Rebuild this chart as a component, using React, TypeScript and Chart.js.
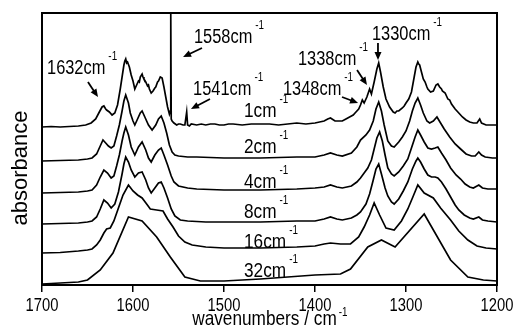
import React, { useEffect, useRef } from "react";
import { Chart, registerables } from "chart.js";
Chart.register(...registerables);

// ---- data (wavenumber cm^-1, relative absorbance) ----
const TICK_VALUES = [1700, 1600, 1500, 1400, 1300, 1200];
const TRACE_LABELS = ["1cm", "2cm", "4cm", "8cm", "16cm", "32cm"];
const OFFSETS = [158, 124, 92, 61, 32, 0];

const trace1cm = [
  [1700, 0], [1690, 0.5], [1680, 0], [1670, 0.5], [1660, 1], [1652, 2], [1646, 4], [1641, 8], [1637, 15], [1634, 20],
  [1632, 21], [1630, 18], [1629, 17], [1626, 15], [1623, 12], [1620, 14], [1617, 22], [1614, 38], [1612, 50], [1610, 62],
  [1609, 66], [1608, 68], [1607, 64], [1606, 65], [1604, 60], [1603, 56], [1602, 52], [1600, 46], [1598, 38], [1597, 40],
  [1596, 42], [1594, 46], [1593, 45], [1592, 50], [1590, 53], [1589, 50], [1588, 48], [1586, 45], [1584, 41], [1583, 42],
  [1582, 38], [1580, 34], [1578, 36], [1576, 39], [1575, 40], [1573, 45], [1572, 46], [1570, 50], [1568, 49], [1566, 40],
  [1564, 30], [1562, 20], [1560, 13], [1559, 16], [1558.5, 114], [1558, 8], [1557, 6], [1555, 4], [1552, 2], [1550, 3], [1548, 3],
  [1545, 2], [1543, 2], [1541, 15], [1540, 2], [1538, 1], [1536, 3], [1530, 2], [1525, 3], [1520, 2], [1515, 3],
  [1510, 3], [1505, 2], [1500, 2], [1495, 3], [1490, 3], [1480, 2], [1470, 3], [1460, 3], [1450, 3], [1440, 2],
  [1430, 3], [1420, 4], [1410, 3], [1400, 4], [1390, 6], [1386, 8], [1383, 9], [1378, 6], [1370, 6], [1366, 8],
  [1362, 10], [1358, 12], [1356, 14], [1352, 18], [1350, 22], [1348, 27], [1346, 24], [1343, 30], [1340, 38], [1338, 33],
  [1335, 45], [1332, 58], [1330, 64], [1328, 55], [1325, 40], [1322, 28], [1318, 20], [1314, 15], [1312, 14], [1310, 16],
  [1308, 16], [1304, 19], [1302, 21], [1300, 24], [1297, 28], [1294, 35], [1291, 50], [1289, 60], [1287, 65], [1286, 63],
  [1285, 62], [1283, 55], [1281, 48], [1279, 45], [1277, 40], [1276, 38], [1273, 35], [1270, 36], [1267, 42], [1265, 43],
  [1263, 40], [1261, 38], [1260, 36], [1257, 34], [1254, 28], [1252, 27], [1250, 23], [1246, 18], [1242, 14], [1238, 10],
  [1234, 7], [1230, 5], [1226, 4], [1222, 4], [1219, 8], [1217, 4], [1212, 2], [1206, 2], [1200, 2],
];

const trace2cm = [
  [1700, 0], [1680, 0.5], [1660, 1], [1650, 2], [1645, 3], [1640, 7], [1636, 15], [1633, 21], [1630, 18], [1627, 15],
  [1624, 13], [1621, 15], [1618, 25], [1615, 36], [1612, 50], [1610, 60], [1608, 66], [1605, 58], [1603, 48], [1600, 40],
  [1598, 36], [1595, 42], [1592, 48], [1590, 50], [1587, 44], [1583, 36], [1579, 31], [1575, 36], [1572, 42], [1569, 45],
  [1566, 38], [1563, 28], [1560, 16], [1557, 9], [1554, 6], [1550, 5], [1540, 4], [1530, 4], [1500, 3], [1460, 3],
  [1420, 4], [1400, 4], [1390, 6], [1383, 8], [1376, 6], [1370, 5], [1360, 8], [1354, 14], [1350, 21], [1344, 26],
  [1340, 31], [1336, 40], [1333, 52], [1330, 59], [1327, 50], [1324, 36], [1320, 20], [1316, 15], [1313, 14], [1308, 19],
  [1304, 24], [1300, 30], [1296, 40], [1293, 50], [1290, 58], [1287, 63], [1284, 56], [1281, 48], [1277, 40], [1274, 38],
  [1270, 40], [1266, 44], [1262, 38], [1258, 32], [1252, 24], [1246, 17], [1240, 12], [1234, 7], [1228, 5], [1224, 5],
  [1220, 9], [1217, 6], [1213, 4], [1205, 3], [1200, 3],
];

const trace4cm = [
  [1700, 0], [1680, 0.5], [1660, 1], [1650, 2], [1645, 3], [1640, 8], [1636, 16], [1632, 23], [1628, 20], [1624, 15],
  [1621, 17], [1618, 27], [1615, 38], [1612, 52], [1610, 60], [1608, 66], [1605, 58], [1602, 46], [1598, 38], [1594, 46],
  [1590, 51], [1586, 43], [1583, 35], [1580, 31], [1576, 38], [1572, 43], [1569, 45], [1566, 38], [1562, 28], [1558, 17],
  [1555, 11], [1550, 7], [1540, 5], [1530, 4], [1500, 3], [1460, 3], [1420, 4], [1400, 5], [1390, 6], [1383, 8],
  [1376, 6], [1370, 5], [1360, 7], [1354, 11], [1350, 15], [1346, 20], [1342, 25], [1338, 33], [1335, 44], [1332, 55],
  [1329, 61], [1326, 52], [1323, 38], [1320, 25], [1316, 19], [1313, 17], [1308, 21], [1303, 27], [1298, 34], [1294, 45],
  [1290, 56], [1287, 63], [1284, 58], [1280, 51], [1276, 45], [1272, 44], [1268, 45], [1265, 46], [1261, 40], [1256, 33],
  [1251, 25], [1245, 18], [1240, 14], [1235, 9], [1230, 6], [1226, 5], [1220, 8], [1216, 5], [1210, 4], [1200, 4],
];

const trace8cm = [
  [1700, 0], [1680, 0.5], [1660, 1], [1650, 2], [1645, 3], [1640, 7], [1636, 15], [1632, 24], [1628, 21], [1624, 16],
  [1620, 20], [1616, 32], [1612, 50], [1610, 60], [1608, 67], [1605, 62], [1602, 54], [1598, 47], [1594, 51], [1590, 52],
  [1586, 44], [1583, 36], [1580, 31], [1576, 36], [1572, 41], [1569, 42], [1566, 36], [1562, 26], [1558, 15], [1554, 8],
  [1548, 4], [1540, 3], [1520, 2], [1500, 2], [1460, 2], [1420, 3], [1400, 3], [1390, 5], [1383, 7], [1376, 5],
  [1370, 4], [1360, 6], [1354, 9], [1350, 12], [1344, 20], [1340, 30], [1336, 44], [1333, 55], [1330, 60], [1327, 50],
  [1323, 36], [1320, 28], [1316, 22], [1313, 20], [1308, 25], [1303, 33], [1298, 42], [1293, 55], [1289, 63], [1287, 66],
  [1284, 62], [1280, 55], [1276, 49], [1272, 47], [1268, 47], [1265, 46], [1261, 42], [1256, 35], [1251, 27], [1246, 19],
  [1242, 14], [1236, 9], [1230, 6], [1226, 5], [1220, 7], [1216, 4], [1210, 3], [1200, 2],
];

const trace16cm = [
  [1700, 0], [1680, 0.5], [1660, 2], [1650, 3], [1645, 4], [1640, 8], [1636, 13], [1632, 20], [1629, 24], [1625, 25],
  [1621, 32], [1616, 45], [1611, 58], [1605, 68], [1600, 62], [1595, 58], [1590, 55], [1585, 49], [1581, 44], [1574, 43],
  [1567, 42], [1562, 34], [1556, 26], [1550, 17], [1543, 11], [1535, 8], [1520, 6], [1500, 5], [1460, 5], [1420, 6],
  [1400, 7], [1390, 9], [1383, 10], [1372, 9], [1361, 9], [1352, 16], [1346, 26], [1340, 38], [1335, 50], [1329, 38],
  [1322, 25], [1313, 23], [1305, 32], [1298, 44], [1292, 57], [1287, 68], [1280, 60], [1270, 55], [1262, 45], [1251, 33],
  [1242, 22], [1232, 13], [1222, 7], [1212, 5], [1200, 4],
];

const trace32cm = [
  [1700, 1], [1680, 2], [1660, 3], [1650, 5], [1636, 15], [1622, 32], [1605, 68], [1590, 64], [1574, 48], [1559, 28],
  [1543, 8], [1526, 4], [1500, 4], [1460, 6], [1430, 8], [1400, 10], [1372, 11], [1361, 16], [1342, 38], [1327, 45],
  [1312, 38], [1280, 71], [1251, 25], [1232, 8], [1215, 5], [1200, 4],
];

const TRACES = [trace1cm, trace2cm, trace4cm, trace8cm, trace16cm, trace32cm];

// annotations (anchor in wavenumber / absorbance units)
const ANNOT_TEXT = ["1632cm", "1558cm", "1541cm", "1338cm", "1330cm", "1348cm"];
const ANNOT_POS = [[1694.5, 211], [1533, 242], [1534, 190], [1418.7, 220], [1337.4, 245], [1435.2, 190]];
const ARROWS = [
  [1649.5, 203, 1638.5, 188],
  [1524.2, 237, 1545, 228],
  [1515.4, 186, 1536.3, 176],
  [1353.8, 215, 1342.9, 200],
  [1330.8, 242, 1330.8, 225],
  [1370.3, 188, 1352.7, 182],
];
const LABEL_WN = 1478;
const LABEL_Y = [168, 132, 97, 67, 37, 8];

const SQ = 0.82;
const FONT = '"Liberation Sans", Arial, sans-serif';

function txt(ctx: CanvasRenderingContext2D, s: string, x: number, y: number, size: number, align: CanvasTextAlign = "left") {
  ctx.save();
  ctx.font = `${size}px ${FONT}`;
  ctx.translate(x, y);
  ctx.scale(SQ, 1);
  ctx.textAlign = align;
  ctx.textBaseline = "alphabetic";
  ctx.fillStyle = "#000";
  ctx.fillText(s, 0, 0);
  const w = ctx.measureText(s).width * SQ;
  ctx.restore();
  return w;
}

function supTxt(ctx: CanvasRenderingContext2D, main: string, x: number, y: number, size: number, supSize: number, rise: number, gap: number) {
  const w = txt(ctx, main, x, y, size);
  txt(ctx, "-1", x + w + gap, y - rise, supSize);
}

function arrow(ctx: CanvasRenderingContext2D, x1: number, y1: number, x2: number, y2: number) {
  const a = Math.atan2(y2 - y1, x2 - x1);
  const hl = 8, hw = 3.5;
  const c = Math.cos(a), s = Math.sin(a);
  ctx.save();
  ctx.strokeStyle = "#000";
  ctx.fillStyle = "#000";
  ctx.lineWidth = 1.8;
  ctx.beginPath();
  ctx.moveTo(x1, y1);
  ctx.lineTo(x2 - hl * 0.8 * c, y2 - hl * 0.8 * s);
  ctx.stroke();
  ctx.beginPath();
  ctx.moveTo(x2, y2);
  ctx.lineTo(x2 - hl * c + hw * s, y2 - hl * s - hw * c);
  ctx.lineTo(x2 - hl * c - hw * s, y2 - hl * s + hw * c);
  ctx.closePath();
  ctx.fill();
  ctx.restore();
}

const decor = {
  id: "decor",
  afterDraw(chart: any) {
    const { ctx, chartArea } = chart;
    const { left, right, top, bottom } = chartArea;
    const xs = chart.scales.x;
    const ys = chart.scales.y;
    ctx.save();
    ctx.strokeStyle = "#000";
    ctx.lineWidth = 2;
    ctx.strokeRect(left, top, right - left, bottom - top);
    ctx.restore();

    ANNOT_TEXT.forEach((t, i) => {
      const [w, v] = ANNOT_POS[i];
      supTxt(ctx, t, xs.getPixelForValue(w), ys.getPixelForValue(v), 20, 12, 14, 3);
    });
    ARROWS.forEach(([w1, v1, w2, v2]) => {
      arrow(ctx, xs.getPixelForValue(w1), ys.getPixelForValue(v1), xs.getPixelForValue(w2), ys.getPixelForValue(v2));
    });
    TRACE_LABELS.forEach((t, i) => {
      supTxt(ctx, t, xs.getPixelForValue(LABEL_WN), ys.getPixelForValue(LABEL_Y[i]), 21, 12, 14, 3);
    });
    // x tick labels
    TICK_VALUES.forEach((v) => {
      txt(ctx, String(v), xs.getPixelForValue(v), 311, 18, "center");
    });
    // x title
    const cx = (left + right) / 2;
    const title = "wavenumbers / cm";
    ctx.save();
    ctx.font = `21px ${FONT}`;
    const tw = ctx.measureText(title).width * SQ;
    ctx.restore();
    const tx = cx - tw / 2 - 5;
    supTxt(ctx, title, tx, 325, 21, 12, 9, 2);
    // y title
    ctx.save();
    ctx.translate(27, (top + bottom) / 2 + 19);
    ctx.rotate(-Math.PI / 2);
    ctx.font = `22px ${FONT}`;
    ctx.textAlign = "center";
    ctx.textBaseline = "alphabetic";
    ctx.fillStyle = "#000";
    ctx.fillText("absorbance", 0, 0);
    ctx.restore();
  },
};

export default function App() {
  const ref = useRef<HTMLCanvasElement>(null);
  useEffect(() => {
    document.body.style.margin = "0";
    const chart = new Chart(ref.current!, {
      type: "line",
      data: {
        datasets: TRACES.map((t, i) => ({
          label: TRACE_LABELS[i],
          data: t.map(([w, a]) => ({ x: w, y: a + OFFSETS[i] })),
          borderColor: "#000",
          borderWidth: 1.7,
          pointRadius: 0,
          tension: 0,
          fill: false,
        })),
      },
      options: {
        animation: false,
        responsive: false,
        devicePixelRatio: 1,
        layout: { padding: { left: 42, right: 19, top: 13, bottom: 0 } },
        plugins: { legend: { display: false }, tooltip: { enabled: false } },
        scales: {
          x: {
            type: "linear",
            min: 1200,
            max: 1700,
            reverse: true,
            afterBuildTicks: (s: any) => {
              s.ticks = TICK_VALUES.map((v) => ({ value: v }));
            },
            afterFit: (s: any) => {
              s.height = 49;
            },
            ticks: { display: false },
            grid: { drawOnChartArea: false, drawTicks: true, tickLength: 7, color: "#000", lineWidth: 1.5 },
            border: { display: true, color: "#000", width: 2 },
          },
          y: { display: false, min: 0, max: 272 },
        },
      },
      plugins: [decor],
    });
    return () => chart.destroy();
  }, []);
  return (
    <div style={{ width: 516, height: 334 }}>
      <canvas ref={ref} width={516} height={334} style={{ display: "block" }} />
    </div>
  );
}
